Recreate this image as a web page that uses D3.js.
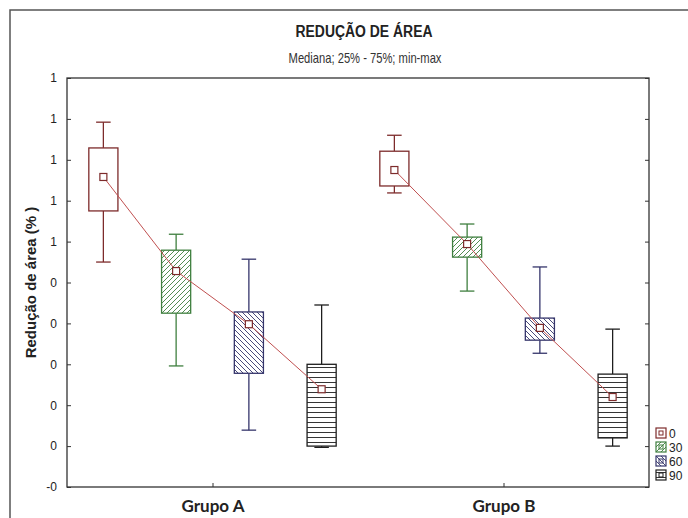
<!DOCTYPE html>
<html>
<head>
<meta charset="utf-8">
<script src="https://cdn.jsdelivr.net/npm/d3@7"></script>
<style>
body { margin: 0; background: #fff; }
text { font-family: "Liberation Sans", Arial, sans-serif; }
</style>
</head>
<body>
<div id="chart"></div>
<script>
//Data
var groups = ["Grupo A", "Grupo B"];
var series = ["0", "30", "60", "90"];
var seriesColors = ["#7d2b2b", "#3f7f3f", "#35356b", "#1e1e1e"];

//min, q1, median, q3, max per group, in series order
var minValues = [[0.450, 0.196, 0.039, -0.003], [0.619, 0.379, 0.227, 0.0]];
var q1Values = [[0.575, 0.325, 0.178, 0.0], [0.636, 0.462, 0.259, 0.020]];
var medianValues = [[0.658, 0.428, 0.298, 0.139], [0.675, 0.494, 0.289, 0.120]];
var q3Values = [[0.729, 0.479, 0.328, 0.200], [0.721, 0.511, 0.313, 0.176]];
var maxValues = [[0.792, 0.518, 0.457, 0.345], [0.760, 0.543, 0.438, 0.286]];

var yTicks = [-0.1, 0, 0.1, 0.2, 0.3, 0.4, 0.5, 0.6, 0.7, 0.8, 0.9];
var yTickLabels = ["-0", "0", "0", "0", "0", "0", "1", "1", "1", "1", "1"];

var width = 688, height = 518;
var plot = {left: 67, right: 649, top: 78, bottom: 487};

var svg = d3.select("#chart").append("svg").attr("width", width).attr("height", height);

//Patterns for the boxes
var defs = svg.append("defs");
function addPattern(id, color, d, w, h)
{
    let p = defs.append("pattern").attr("id", id).attr("patternUnits", "userSpaceOnUse")
        .attr("width", w).attr("height", h);
    p.append("rect").attr("width", w).attr("height", h).attr("fill", "#fff");
    if(d) p.append("path").attr("d", d).attr("stroke", color).attr("stroke-width", 0.9).attr("fill", "none");
}
addPattern("pat0", seriesColors[0], null, 5, 5);
addPattern("pat1", seriesColors[1], "M0,5 L5,0 M-1,1 L1,-1 M4,6 L6,4", 5, 5);
addPattern("pat2", seriesColors[2], "M0,0 L5,5 M-1,4 L1,6 M4,-1 L6,1", 5, 5);
addPattern("pat3", seriesColors[3], "M0,2.5 L5,2.5", 5, 5);

//Outer frame
svg.append("path").attr("d", "M10,520 V10 H690").attr("fill", "none").attr("stroke", "#555").attr("stroke-width", 1.5);

//Titles (narrow look by squeezing horizontally)
svg.append("text").attr("transform", "translate(364,37) scale(0.82,1)").attr("text-anchor", "middle")
    .style("font-size", "17px").style("font-weight", "bold")
    .attr("fill", "#222").text("REDUÇÃO DE ÁREA");
svg.append("text").attr("transform", "translate(365,63) scale(0.8,1)").attr("text-anchor", "middle")
    .style("font-size", "14px")
    .attr("fill", "#333").text("Mediana; 25% - 75%; min-max");

//Scales
var y = d3.scaleLinear().domain([-0.1, 0.9]).range([plot.bottom, plot.top]);
var x = d3.scalePoint().domain(groups).range([plot.left, plot.right]).padding(0.5);
var step = x.step();
var xInner = d3.scaleBand().domain(series).range([-step / 2, step / 2]).paddingOuter(0).paddingInner(0);
var boxW = xInner.bandwidth() * 0.4;
var capW = boxW * 0.5;

//Plot frame
svg.append("rect").attr("x", plot.left).attr("y", plot.top).attr("width", plot.right - plot.left)
    .attr("height", plot.bottom - plot.top).attr("fill", "none").attr("stroke", "#333").attr("stroke-width", 1.3);

//Y axis (left, ticks inside) and mirror ticks on the right
var yAxis = d3.axisLeft(y).tickValues(yTicks).tickSize(-4).tickPadding(10)
    .tickFormat((d, i) => yTickLabels[i]);
var ya = svg.append("g").attr("transform", "translate(" + plot.left + ",0)").call(yAxis);
ya.select(".domain").remove();
ya.selectAll("line").attr("stroke", "#333");
ya.selectAll("text").style("font-size", "12px").attr("fill", "#222");

var yRight = d3.axisRight(y).tickValues(yTicks).tickSize(-4).tickFormat("");
var yr = svg.append("g").attr("transform", "translate(" + plot.right + ",0)").call(yRight);
yr.select(".domain").remove();
yr.selectAll("line").attr("stroke", "#333");

//X axis
var xAxis = d3.axisBottom(x).tickSize(-4).tickPadding(13);
var xa = svg.append("g").attr("transform", "translate(0," + plot.bottom + ")").call(xAxis);
xa.select(".domain").remove();
xa.selectAll("line").attr("stroke", "#333");
xa.selectAll("text").style("font-family", "Lato, 'Liberation Sans', Arial").style("font-size", "17px")
    .style("font-weight", "bold").attr("fill", "#222");

//Y axis title
svg.append("text").attr("transform", "translate(36," + ((plot.top + plot.bottom) / 2) + ") rotate(-90)")
    .attr("text-anchor", "middle").style("font-size", "15px").style("font-weight", "bold").attr("fill", "#222")
    .text("Redução de área (% )");

//Boxes
groups.forEach(function(g, gi)
{
    let gx = x(g);
    let medianPts = [];
    series.forEach(function(s, si)
    {
        let cx = gx + xInner(s) + xInner.bandwidth() / 2;
        let c = seriesColors[si];
        let box = svg.append("g");
        //whiskers
        box.append("line").attr("x1", cx).attr("x2", cx).attr("y1", y(maxValues[gi][si])).attr("y2", y(q3Values[gi][si])).attr("stroke", c).attr("stroke-width", 1.3);
        box.append("line").attr("x1", cx).attr("x2", cx).attr("y1", y(q1Values[gi][si])).attr("y2", y(minValues[gi][si])).attr("stroke", c).attr("stroke-width", 1.3);
        box.append("line").attr("x1", cx - capW / 2).attr("x2", cx + capW / 2).attr("y1", y(maxValues[gi][si])).attr("y2", y(maxValues[gi][si])).attr("stroke", c).attr("stroke-width", 1.3);
        box.append("line").attr("x1", cx - capW / 2).attr("x2", cx + capW / 2).attr("y1", y(minValues[gi][si])).attr("y2", y(minValues[gi][si])).attr("stroke", c).attr("stroke-width", 1.3);
        //box
        box.append("rect").attr("x", cx - boxW / 2).attr("y", y(q3Values[gi][si])).attr("width", boxW)
            .attr("height", y(q1Values[gi][si]) - y(q3Values[gi][si])).attr("fill", "url(#pat" + si + ")")
            .attr("stroke", c).attr("stroke-width", 1.3);
        medianPts.push([cx, y(medianValues[gi][si])]);
    });

    //median line
    svg.append("path").attr("d", d3.line()(medianPts)).attr("fill", "none").attr("stroke", "#c05050").attr("stroke-width", 1);

    //median markers
    svg.selectAll(null).data(medianPts).enter().append("rect")
        .attr("x", d => d[0] - 3.5).attr("y", d => d[1] - 3.5).attr("width", 7).attr("height", 7)
        .attr("fill", "#fff").attr("stroke", "#7d2b2b").attr("stroke-width", 1.2);
});

//Legend
var legend = svg.append("g").attr("transform", "translate(656,433)");
series.forEach(function(s, si)
{
    let row = legend.append("g").attr("transform", "translate(0," + (si * 14) + ")");
    row.append("rect").attr("x", 0).attr("y", -5).attr("width", 10).attr("height", 10)
        .attr("fill", "url(#pat" + si + ")").attr("stroke", seriesColors[si]).attr("stroke-width", 1.2);
    row.append("rect").attr("x", 3).attr("y", -2).attr("width", 4).attr("height", 4)
        .attr("fill", "none").attr("stroke", seriesColors[si]).attr("stroke-width", 1);
    row.append("text").attr("x", 13).attr("y", 4.5).style("font-size", "12px").attr("fill", "#222").text(s);
});
</script>
</body>
</html>
